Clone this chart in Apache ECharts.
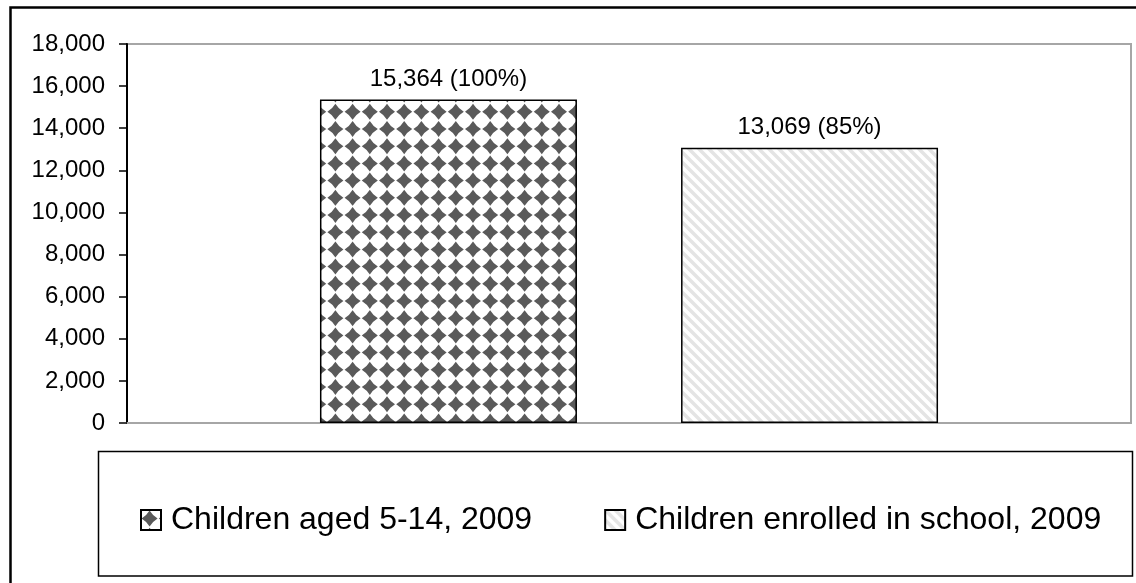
<!DOCTYPE html>
<html>
<head>
<meta charset="utf-8">
<script src="https://cdn.jsdelivr.net/npm/echarts@6/dist/echarts.min.js"></script>
<style>
  html, body { margin: 0; padding: 0; background: #ffffff; }
  #chart { width: 1136px; height: 583px; }
</style>
</head>
<body>
<div id="chart"></div>
<script>
// Chart data
const categories = ['2009'];
const seriesNames = ['Children aged 5-14, 2009', 'Children enrolled in school, 2009'];
const childrenAged = [15364];
const childrenEnrolled = [13069];
const yTicks = { min: 0, max: 18000, interval: 2000 };

const FONT = '"Liberation Sans", Arial, Helvetica, sans-serif';

// Dark diamond lattice fill
function diamondPattern() {
  const period = 17.2, reps = 5;
  const size = Math.round(period * reps);
  const c = document.createElement('canvas');
  c.width = size; c.height = size;
  const ctx = c.getContext('2d');
  ctx.fillStyle = '#ffffff';
  ctx.fillRect(0, 0, size, size);
  ctx.fillStyle = '#5a5a5a';
  const r = 8.0, k = 3.0;
  for (let i = 0; i <= reps; i++) {
    for (let j = 0; j <= reps; j++) {
      const cx = i * period + period / 2, cy = j * period + period / 2;
      ctx.beginPath();
      ctx.moveTo(cx, cy - r);
      ctx.quadraticCurveTo(cx + k, cy - k, cx + r, cy);
      ctx.quadraticCurveTo(cx + k, cy + k, cx, cy + r);
      ctx.quadraticCurveTo(cx - k, cy + k, cx - r, cy);
      ctx.quadraticCurveTo(cx - k, cy - k, cx, cy - r);
      ctx.closePath();
      ctx.fill();
    }
  }
  return c;
}

// Light diagonal stripes fill
function stripePattern() {
  const size = 80;
  const c = document.createElement('canvas');
  c.width = size; c.height = size;
  const ctx = c.getContext('2d');
  ctx.fillStyle = '#ffffff';
  ctx.fillRect(0, 0, size, size);
  ctx.strokeStyle = '#e4e4e4';
  ctx.lineWidth = 3.5;
  const step = 10;
  for (let o = -size; o <= size * 2; o += step) {
    ctx.beginPath();
    ctx.moveTo(o - size, -size);
    ctx.lineTo(o + size * 2, size * 2);
    ctx.stroke();
  }
  return c;
}

const chart = echarts.init(document.getElementById('chart'), null, { renderer: 'canvas' });

const base = childrenAged[0];
const fmtNum = v => v.toLocaleString('en-US');
const labelFor = v => fmtNum(v) + ' (' + Math.round(v / base * 100) + '%)';

chart.setOption({
  backgroundColor: '#ffffff',
  animation: false,
  textStyle: { fontFamily: FONT },
  grid: {
    left: 127, top: 44, right: 5, bottom: 160,
    show: true, borderColor: '#a6a6a6', borderWidth: 2, backgroundColor: 'transparent'
  },
  legend: {
    left: 135, top: 499,
    itemWidth: 20, itemHeight: 20, itemGap: 72,
    icon: 'rect',
    textStyle: { fontFamily: FONT, fontSize: 32, color: '#000000', padding: [0, 0, 0, 5] },
    data: seriesNames
  },
  xAxis: {
    type: 'category',
    data: categories,
    axisLine: { lineStyle: { color: '#a6a6a6', width: 2 } },
    axisTick: { show: false },
    axisLabel: { show: false }
  },
  yAxis: {
    type: 'value',
    min: yTicks.min, max: yTicks.max, interval: yTicks.interval,
    axisLine: { show: true, lineStyle: { color: '#000000', width: 2 } },
    axisTick: { show: true, inside: false, length: 8, lineStyle: { color: '#000000', width: 1.5 } },
    splitLine: { show: false },
    axisLabel: {
      margin: 22, fontFamily: FONT, fontSize: 24, color: '#000000',
      formatter: v => fmtNum(v)
    }
  },
  series: [
    {
      name: seriesNames[0],
      type: 'bar',
      data: childrenAged,
      barWidth: 257,
      barGap: '40.5%',
      itemStyle: {
        color: { image: diamondPattern(), repeat: 'repeat' },
        borderColor: '#000000', borderWidth: 1.5
      },
      label: {
        show: true, position: 'top', distance: 8,
        fontFamily: FONT, fontSize: 24, color: '#000000',
        formatter: p => labelFor(p.value)
      }
    },
    {
      name: seriesNames[1],
      type: 'bar',
      data: childrenEnrolled,
      barWidth: 257,
      itemStyle: {
        color: { image: stripePattern(), repeat: 'repeat' },
        borderColor: '#000000', borderWidth: 1.5
      },
      label: {
        show: true, position: 'top', distance: 8,
        fontFamily: FONT, fontSize: 24, color: '#000000',
        formatter: p => labelFor(p.value)
      }
    }
  ],
  graphic: [
    {
      type: 'rect', silent: true, z: -1,
      shape: { x: 10.5, y: 7.5, width: 1200, height: 700 },
      style: { fill: 'none', stroke: '#000000', lineWidth: 2.5 }
    },
    {
      type: 'rect', silent: true, z: -1,
      shape: { x: 98.5, y: 451.5, width: 1034, height: 124.5 },
      style: { fill: 'none', stroke: '#000000', lineWidth: 1.5 }
    }
  ]
});
</script>
</body>
</html>
